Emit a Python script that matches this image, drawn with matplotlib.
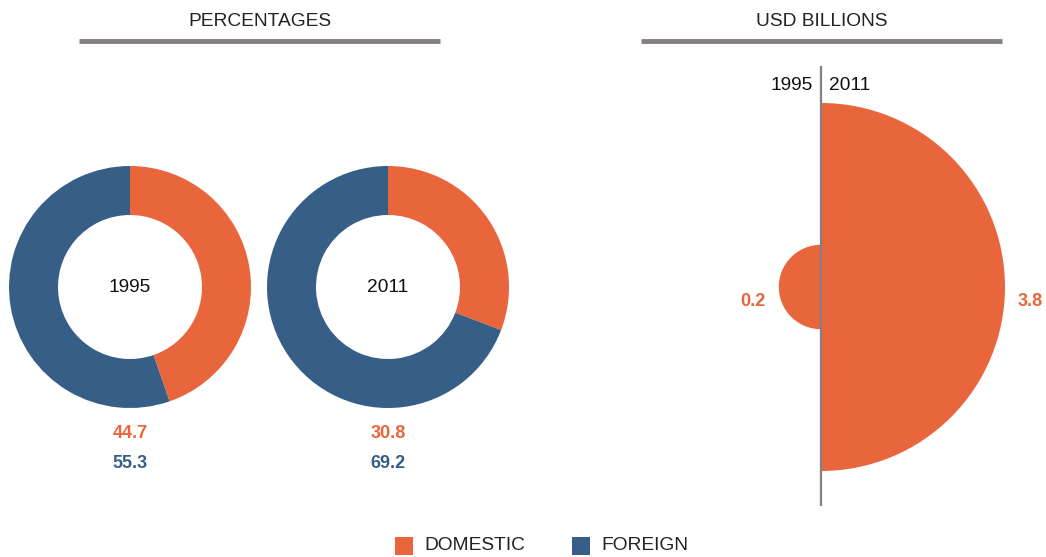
import matplotlib
matplotlib.use("Agg")
import matplotlib.pyplot as plt
from matplotlib.patches import Wedge, Rectangle
import numpy as np

plt.rcParams['font.family'] = ['Liberation Sans', 'DejaVu Sans']

years = ["1995", "2011"]
domestic_pct = [44.7, 30.8]
foreign_pct = [55.3, 69.2]
domestic_usd = [0.2, 3.8]
series_names = ["DOMESTIC", "FOREIGN"]
titles = ["PERCENTAGES", "USD BILLIONS"]

ORANGE = '#E9653B'
BLUE = '#365E86'
GRAY = '#857F7F'
W, H = 1046, 557
FS = 13.8

fig = plt.figure(figsize=(W / 100, H / 100), dpi=100)
ax = fig.add_axes([0, 0, 1, 1])

def Y(py):
    return H - py

# Donuts
centers_x = [130, 388]
cy = 287
R = 121
width = 49
for i, yr in enumerate(years):
    ax.pie([domestic_pct[i], foreign_pct[i]], colors=[ORANGE, BLUE],
           center=(centers_x[i], Y(cy)), radius=R, startangle=90,
           counterclock=False, wedgeprops=dict(width=width, linewidth=0),
           frame=True)
    ax.text(centers_x[i], Y(cy), yr, ha='center', va='center', fontsize=FS, color='#111111')
    ax.text(centers_x[i], Y(433), f"{domestic_pct[i]:.1f}", ha='center', va='center',
            fontsize=13, fontweight='bold', color=ORANGE)
    ax.text(centers_x[i], Y(464), f"{foreign_pct[i]:.1f}", ha='center', va='center',
            fontsize=13, fontweight='bold', color=BLUE)

# Half circles (area-proportional)
axis_x = 821
k = 184 / np.sqrt(max(domestic_usd))
r_left = k * np.sqrt(domestic_usd[0])
r_right = k * np.sqrt(domestic_usd[1])
ax.add_patch(Wedge((axis_x, Y(cy)), r_left, 90, 270, color=ORANGE, lw=0))
ax.add_patch(Wedge((axis_x, Y(cy)), r_right, -90, 90, color=ORANGE, lw=0))
ax.plot([axis_x, axis_x], [Y(67), Y(505)], color=GRAY, lw=1.6)
ax.text(axis_x - 8, Y(85), years[0], ha='right', va='center', fontsize=FS, color='#111111')
ax.text(axis_x + 8, Y(85), years[1], ha='left', va='center', fontsize=FS, color='#111111')
ax.text(axis_x - r_left - 13, Y(302), f"{domestic_usd[0]:.1f}", ha='right', va='center',
        fontsize=13, fontweight='bold', color=ORANGE)
ax.text(axis_x + r_right + 13, Y(302), f"{domestic_usd[1]:.1f}", ha='left', va='center',
        fontsize=13, fontweight='bold', color=ORANGE)

# Headers
for (x0, x1), t in zip([(79, 440), (641, 1002)], titles):
    ax.plot([x0, x1], [Y(40.5), Y(40.5)], color=GRAY, lw=3.5, solid_capstyle='butt')
    ax.text((x0 + x1) / 2, Y(21.5), t, ha='center', va='center', fontsize=FS, color='#222222')

# Legend
for (sx, tx), name, col in zip([(395, 424), (572, 601)], series_names, [ORANGE, BLUE]):
    ax.add_patch(Rectangle((sx, Y(555)), 18, 18, color=col, lw=0))
    ax.text(tx, Y(546), name, ha='left', va='center', fontsize=FS, color='#222222')

ax.set_xlim(0, W)
ax.set_ylim(0, H)
ax.set_aspect('auto')
ax.axis('off')
fig.savefig("out.png", dpi=100)
